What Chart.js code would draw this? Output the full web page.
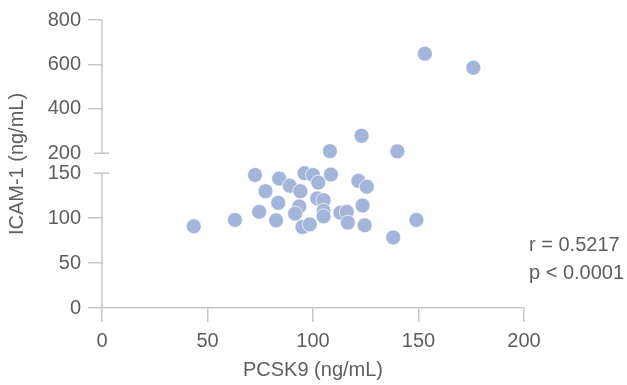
<!DOCTYPE html>
<html>
<head>
<meta charset="utf-8">
<script src="https://cdn.jsdelivr.net/npm/chart.js@4/dist/chart.umd.min.js"></script>
<style>
  body { margin: 0; background: #fff; }
</style>
</head>
<body>
<canvas id="myChart" width="627" height="385"></canvas>
<script>
// points below the axis break (ICAM-1 <= 150)
const lowX = [43.5, 63, 72.5, 74.5, 77.5, 82.5, 83.5, 84, 89, 94, 96, 100, 102.5, 108.5,
    93.5, 91.5, 95, 98.5, 102, 105, 105, 105, 113, 116, 116.5, 121.5, 125.5, 123.5, 124.5, 138, 149];
const lowY = [91, 98, 148, 107, 130, 97.5, 117, 144, 136, 130, 150, 148, 139.5, 148.5,
    113, 105, 90, 93, 122, 120, 108, 102, 106, 107, 95, 141.5, 135, 114, 92, 78.5, 98];
// points above the break
const highX = [153, 176, 123, 108, 140];
const highY = [648, 585, 278, 209, 208];

const xTicks = [0, 50, 100, 150, 200];
const lowTicks = [0, 50, 100, 150];
const highTicks = [200, 400, 600, 800];

const axisColor = '#c6c6c6';
const textColor = '#5e5e5e';
const dotColor = '#a4b5da';
const fontFamily = '"Liberation Sans", Arial, sans-serif';

Chart.defaults.font.family = fontFamily;
Chart.defaults.font.size = 20;
Chart.defaults.color = textColor;

const tickList = (arr) => (scale) => { scale.ticks = arr.map(v => ({value: v})); };

const breakAxis = {
    id: 'breakAxis',
    afterDraw(chart) {
        const {ctx, chartArea, scales} = chart;
        const lo = scales.yLow;
        const hi = scales.yHigh;
        const x0 = chartArea.left;
        const loTop = lo.getPixelForValue(lowTicks[lowTicks.length - 1]);
        const hiBottom = hi.getPixelForValue(highTicks[0]);
        ctx.save();
        ctx.strokeStyle = axisColor;
        ctx.lineWidth = 1.5;
        ctx.beginPath();
        ctx.moveTo(x0, lo.getPixelForValue(lowTicks[0]));
        ctx.lineTo(x0, loTop);
        ctx.moveTo(x0, hiBottom);
        ctx.lineTo(x0, hi.getPixelForValue(highTicks[highTicks.length - 1]));
        // break marks
        [loTop, hiBottom].forEach(y => {
            ctx.moveTo(x0 - 8, y);
            ctx.lineTo(x0 + 7, y);
        });
        ctx.stroke();

        ctx.fillStyle = textColor;
        ctx.font = '20px ' + fontFamily;
        // y axis title
        ctx.save();
        ctx.translate(17, (chartArea.top + chartArea.bottom) / 2);
        ctx.rotate(-Math.PI / 2);
        ctx.textAlign = 'center';
        ctx.textBaseline = 'middle';
        ctx.fillText('ICAM-1 (ng/mL)', 0, 0);
        ctx.restore();
        // stats
        ctx.textAlign = 'left';
        ctx.textBaseline = 'middle';
        ctx.fillText('r = 0.5217', 529, 245);
        ctx.fillText('p < 0.0001', 529, 273);
        ctx.restore();
    }
};

new Chart(document.getElementById('myChart'), {
    type: 'scatter',
    data: {
        datasets: [{
            label: 'low',
            data: lowX.map((x, i) => ({x: x, y: lowY[i]})),
            yAxisID: 'yLow',
            backgroundColor: dotColor,
            borderColor: 'rgba(255,255,255,0.7)',
            borderWidth: 1,
            pointRadius: 7.5,
            clip: false
        }, {
            label: 'high',
            data: highX.map((x, i) => ({x: x, y: highY[i]})),
            yAxisID: 'yHigh',
            backgroundColor: dotColor,
            borderColor: 'rgba(255,255,255,0.7)',
            borderWidth: 1,
            pointRadius: 7.5,
            clip: false
        }]
    },
    options: {
        responsive: false,
        animation: false,
        devicePixelRatio: 1,
        layout: {
            padding: {left: 0, right: 103, top: 20, bottom: 0}
        },
        scales: {
            x: {
                type: 'linear',
                min: 0,
                max: 200,
                afterBuildTicks: tickList(xTicks),
                afterFit: (scale) => { scale.height = 77; },
                grid: {
                    drawOnChartArea: false,
                    tickLength: 14,
                    tickColor: axisColor,
                    lineWidth: 1.5
                },
                border: {
                    display: true,
                    color: axisColor,
                    width: 1.5
                },
                ticks: {
                    padding: 7,
                    color: textColor
                },
                title: {
                    display: true,
                    text: 'PCSK9 (ng/mL)',
                    color: textColor,
                    padding: {top: 0, bottom: 3}
                }
            },
            yLow: {
                type: 'linear',
                position: 'left',
                stack: 'y',
                stackWeight: 0.5377,
                weight: 0,
                min: 0,
                max: 172.3,
                afterBuildTicks: tickList(lowTicks),
                afterFit: (scale) => { scale.width = 102; },
                grid: {
                    drawOnChartArea: false,
                    tickLength: 14,
                    lineWidth: 1.5,
                    tickColor: (c) => (c.tick && c.tick.value === lowTicks[lowTicks.length - 1]) ? 'rgba(0,0,0,0)' : axisColor
                },
                border: { display: false },
                ticks: {
                    padding: 7,
                    color: textColor
                }
            },
            yHigh: {
                type: 'linear',
                position: 'left',
                stack: 'y',
                stackWeight: 0.4623,
                weight: 1,
                min: 200,
                max: 800,
                afterBuildTicks: tickList(highTicks),
                afterFit: (scale) => { scale.width = 102; },
                grid: {
                    drawOnChartArea: false,
                    tickLength: 14,
                    lineWidth: 1.5,
                    tickColor: (c) => (c.tick && c.tick.value === highTicks[0]) ? 'rgba(0,0,0,0)' : axisColor
                },
                border: { display: false },
                ticks: {
                    padding: 7,
                    color: textColor
                }
            }
        },
        plugins: {
            legend: { display: false },
            tooltip: { enabled: false }
        }
    },
    plugins: [breakAxis]
});
</script>
</body>
</html>
